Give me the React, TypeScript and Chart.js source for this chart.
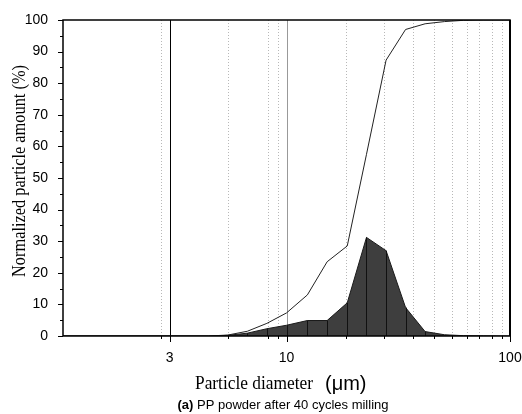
import { useEffect, useRef } from 'react';
import { Chart, registerables } from 'chart.js';

Chart.register(...registerables);

// Particle diameter (µm) of each size bin
const sizes = [1, 4.47, 5.46, 6.68, 8.17, 10, 12.4, 15.2, 18.7, 22.8, 27.9, 34.1, 41.7, 50.9, 62, 76, 93, 100];
// Frequency distribution (%), filled dark area
const frequency = [0, 0, 0.2, 0.9, 2.3, 3.4, 4.9, 4.9, 10.5, 31.2, 27.0, 9.0, 1.4, 0.4, 0.1, 0.05, 0, 0];
// Cumulative distribution (%), thin line
const cumulative = [0, 0, 0.3, 1.5, 4.0, 7.3, 13.0, 23.5, 28.5, 57.5, 87.3, 97.0, 98.8, 99.5, 99.9, 100, 100, 100];

// X tick labels
const xTickLabels = [3, 10, 100];
// Dotted vertical grid / minor tick positions
const xDottedGrid = [2.75, 5.46, 8.27, 9.17, 18.4, 27.4, 36.7, 45.7, 54.8, 64, 72.8, 82.8, 91.8];
// Y axis
const yMin = 0;
const yMax = 100;
const yStep = 10;

const yTitle = 'Normalized particle amount (%)';
const xTitleMain = 'Particle diameter';
const xTitleUnit = '(\u03BCm)';
const captionBold = '(a)';
const captionRest = ' PP powder after 40 cycles milling';

export default function App() {
  const ref = useRef<HTMLCanvasElement>(null);

  useEffect(() => {
    if (!ref.current) return;

    const decor = {
      id: 'decor',
      beforeDatasetsDraw(chart: any) {
        const { ctx, chartArea: a, scales } = chart;
        const xs = scales.x;
        ctx.save();
        ctx.lineWidth = 1;
        ctx.strokeStyle = '#b8b8b8';
        ctx.setLineDash([1, 2]);
        for (const v of xDottedGrid) {
          const px = Math.round(xs.getPixelForValue(v)) + 0.5;
          ctx.beginPath();
          ctx.moveTo(px, a.top);
          ctx.lineTo(px, a.bottom);
          ctx.stroke();
        }
        ctx.setLineDash([]);
        let px = Math.round(xs.getPixelForValue(10)) + 0.5;
        ctx.strokeStyle = '#999';
        ctx.beginPath();
        ctx.moveTo(px, a.top);
        ctx.lineTo(px, a.bottom);
        ctx.stroke();
        px = Math.round(xs.getPixelForValue(3)) + 0.5;
        ctx.strokeStyle = '#000';
        ctx.beginPath();
        ctx.moveTo(px, a.top);
        ctx.lineTo(px, a.bottom);
        ctx.stroke();
        ctx.restore();
      },
      afterDatasetsDraw(chart: any) {
        const { ctx, chartArea: a, scales } = chart;
        const xs = scales.x;
        const ys = scales.y;
        ctx.save();
        ctx.strokeStyle = '#111';
        ctx.lineWidth = 1;
        sizes.forEach((s, i) => {
          if (frequency[i] > 0.5) {
            const px = Math.round(xs.getPixelForValue(s)) + 0.5;
            ctx.beginPath();
            ctx.moveTo(px, ys.getPixelForValue(0));
            ctx.lineTo(px, ys.getPixelForValue(frequency[i]));
            ctx.stroke();
          }
        });
        ctx.strokeStyle = '#000';
        ctx.lineWidth = 1.5;
        ctx.strokeRect(a.left, a.top, a.right - a.left, a.bottom - a.top);
        ctx.lineWidth = 2;
        ctx.beginPath();
        ctx.moveTo(a.right, a.top);
        ctx.lineTo(a.right, a.bottom);
        ctx.stroke();
        ctx.lineWidth = 1;
        for (let v = yMin; v <= yMax; v += yStep / 2) {
          const py = Math.round(ys.getPixelForValue(v)) + 0.5;
          const len = v % yStep === 0 ? 5 : 3;
          ctx.beginPath();
          ctx.moveTo(a.left - len, py);
          ctx.lineTo(a.left, py);
          ctx.stroke();
        }
        for (const v of xDottedGrid) {
          const px = Math.round(xs.getPixelForValue(v)) + 0.5;
          ctx.beginPath();
          ctx.moveTo(px, a.bottom);
          ctx.lineTo(px, a.bottom + 3);
          ctx.stroke();
        }
        for (const v of xTickLabels) {
          const px = Math.round(xs.getPixelForValue(v)) + 0.5;
          ctx.beginPath();
          ctx.moveTo(px, a.bottom);
          ctx.lineTo(px, a.bottom + 6);
          ctx.stroke();
        }
        ctx.fillStyle = '#000';
        ctx.textBaseline = 'alphabetic';
        ctx.save();
        ctx.font = '18px "Liberation Serif", "Times New Roman", serif';
        const yw = ctx.measureText(yTitle).width;
        const ySc = 212 / yw;
        ctx.translate(25, (a.top + a.bottom) / 2 - 7);
        ctx.rotate(-Math.PI / 2);
        ctx.scale(ySc, 1);
        ctx.textAlign = 'center';
        ctx.fillText(yTitle, 0, 0);
        ctx.restore();
        ctx.save();
        ctx.font = '19px "Liberation Serif", "Times New Roman", serif';
        const mw = ctx.measureText(xTitleMain).width;
        const mSc = 118 / mw;
        ctx.translate(195, 389);
        ctx.scale(mSc, 1);
        ctx.textAlign = 'left';
        ctx.fillText(xTitleMain, 0, 0);
        ctx.restore();
        ctx.font = '20px "Liberation Sans", Arial, sans-serif';
        ctx.textAlign = 'left';
        ctx.fillText(xTitleUnit, 325, 390);
        ctx.font = 'bold 13px "Liberation Sans", Arial, sans-serif';
        const bw = ctx.measureText(captionBold).width;
        ctx.font = '13px "Liberation Sans", Arial, sans-serif';
        const rw = ctx.measureText(captionRest).width;
        const cx0 = 283 - (bw + rw) / 2;
        ctx.font = 'bold 13px "Liberation Sans", Arial, sans-serif';
        ctx.fillText(captionBold, cx0, 409);
        ctx.font = '13px "Liberation Sans", Arial, sans-serif';
        ctx.fillText(captionRest, cx0 + bw, 409);
        ctx.restore();
      },
    };

    const chart = new Chart(ref.current, {
      type: 'line',
      data: {
        datasets: [
          {
            label: 'Cumulative',
            data: sizes.map((x, i) => ({ x, y: cumulative[i] })),
            borderColor: '#222',
            borderWidth: 1,
            pointRadius: 0,
            fill: false,
            tension: 0,
          },
          {
            label: 'Frequency',
            data: sizes.map((x, i) => ({ x, y: frequency[i] })),
            borderColor: '#1a1a1a',
            backgroundColor: '#3e3e3e',
            borderWidth: 1,
            pointRadius: 0,
            fill: 'origin',
            tension: 0,
          },
        ],
      },
      options: {
        responsive: false,
        animation: false,
        layout: { padding: { top: 20, right: 12, left: 0, bottom: 0 } },
        plugins: {
          legend: { display: false },
          tooltip: { enabled: false },
          title: { display: false },
        },
        scales: {
          x: {
            type: 'logarithmic',
            min: 1,
            max: 100,
            grid: { display: false },
            border: { display: false },
            afterBuildTicks: (s: any) => {
              s.ticks = xTickLabels.map((v) => ({ value: v }));
            },
            afterFit: (s: any) => {
              s.height = 78;
              s.paddingLeft = 0;
              s.paddingRight = 0;
            },
            ticks: {
              autoSkip: false,
              maxRotation: 0,
              padding: 6,
              color: '#000',
              font: { family: '"Liberation Sans", Arial, sans-serif', size: 14 },
              callback: (v: any) => String(v),
            },
          },
          y: {
            type: 'linear',
            min: yMin,
            max: yMax,
            grid: { display: false },
            border: { display: false },
            afterFit: (s: any) => {
              s.width = 63;
              s.paddingTop = 0;
              s.paddingBottom = 0;
            },
            ticks: {
              stepSize: yStep,
              padding: 7,
              color: '#000',
              font: { family: '"Liberation Sans", Arial, sans-serif', size: 14 },
            },
          },
        },
      },
      plugins: [decor],
    });

    return () => chart.destroy();
  }, []);

  return (
    <div style={{ position: 'fixed', left: 0, top: 0, width: 522, height: 414, background: '#fff' }}>
      <canvas ref={ref} width={522} height={414} style={{ display: 'block', width: 522, height: 414 }} />
    </div>
  );
}
